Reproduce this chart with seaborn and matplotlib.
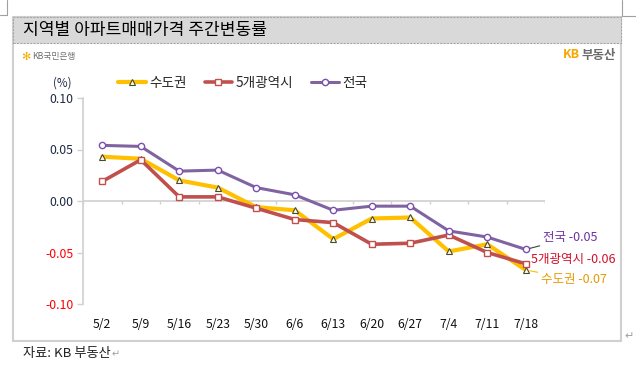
import matplotlib
matplotlib.use("Agg")
import matplotlib.pyplot as plt
import matplotlib.patches as mpatches
import matplotlib.lines as mlines
import seaborn as sns
import numpy as np
import pandas as pd

# ---- data ----
weeks = ["5/2", "5/9", "5/16", "5/23", "5/30", "6/6", "6/13", "6/20", "6/27", "7/4", "7/11", "7/18"]
sudogwon = [0.043, 0.041, 0.020, 0.013, -0.006, -0.009, -0.037, -0.017, -0.016, -0.049, -0.042, -0.067]
metro5 = [0.019, 0.040, 0.004, 0.004, -0.007, -0.018, -0.021, -0.042, -0.041, -0.033, -0.050, -0.061]
national = [0.054, 0.053, 0.029, 0.030, 0.013, 0.006, -0.009, -0.005, -0.005, -0.029, -0.035, -0.047]
series_names = ["수도권", "5개광역시", "전국"]
end_labels = ["수도권 -0.07", "5개광역시 -0.06", "전국 -0.05"]
yticks = [0.10, 0.05, 0.00, -0.05, -0.10]

sns.set_theme(style="white")
plt.rcParams['font.family'] = ['Noto Sans CJK KR', 'DejaVu Sans']

fig = plt.figure(figsize=(6.36, 3.67), dpi=100)
W, H = 636, 367

def fx(px):
    return px / W

def fy(py):
    return 1 - py / H

# outer frame
frame = mpatches.Rectangle((fx(13), fy(341)), fx(621) - fx(13), fy(17) - fy(341),
                           transform=fig.transFigure, facecolor="white",
                           edgecolor="#d0d0d0", lw=1.5, zorder=-2)
fig.patches.append(frame)
# title bar
tbar = mpatches.Rectangle((fx(13), fy(43)), fx(621) - fx(13), fy(17) - fy(43),
                          transform=fig.transFigure, facecolor="#d9d9d9",
                          edgecolor="#a6a6a6", lw=0.8, ls=(0, (2, 1)), zorder=-1)
fig.patches.append(tbar)
fig.text(fx(23), fy(30), "지역별 아파트매매가격 주간변동률", fontsize=12.3, color="black",
         va="center", ha="left", zorder=2)

# page corner marks
for xs, ys in [([7, 7], [0, 15]), ([0, 7], [15, 15]), ([622, 622], [0, 16]), ([622, 636], [16, 16])]:
    fig.add_artist(mlines.Line2D([fx(v) for v in xs], [fy(v) for v in ys],
                                 transform=fig.transFigure, color="#a0a0a0", lw=0.8))

# logos
fig.text(fx(21), fy(57), "✻", fontsize=8, color="#f2a900", va="center", ha="left",
         family=['DejaVu Sans'])
fig.text(fx(32), fy(57), "KB국민은행", fontsize=6.3, color="#707070", va="center", ha="left")
fig.text(fx(563), fy(55), "KB", fontsize=9, color="#f5a800", va="center", ha="left",
         fontweight="bold")
fig.text(fx(581), fy(55), "부동산", fontsize=9, color="#6b6b6b", va="center", ha="left",
         fontweight="bold")

# source
fig.text(fx(23), fy(353), "자료: KB 부동산", fontsize=9.5, color="#222222", va="center", ha="left")
fig.text(fx(112), fy(354), "↵", fontsize=7, color="#a0a0a0", va="center", ha="left",
         family=['DejaVu Sans'])
fig.text(fx(624), fy(336), "↵", fontsize=8, color="#a0a0a0", va="center", ha="left",
         family=['DejaVu Sans'])

# axes
ax = fig.add_axes([fx(83), fy(304), fx(545) - fx(83), fy(98) - fy(304)])
ax.set_facecolor("none")
ax.set_zorder(5)

x = np.arange(len(weeks))
df = pd.DataFrame({"x": np.tile(x, 3),
                   "val": sudogwon + metro5 + national,
                   "series": np.repeat(series_names, len(weeks))})

styles = {
    "수도권": dict(color="#FFC000", lw=3.0, marker="^", ms=4.8, mfc="#fffbe8", mec="#4a4a2a", mew=0.8),
    "5개광역시": dict(color="#C0504D", lw=2.6, marker="s", ms=4.3, mfc="white", mec="#C0504D", mew=1.0),
    "전국": dict(color="#8064A2", lw=2.2, marker="o", ms=4.5, mfc="white", mec="#7a4fb0", mew=1.0),
}

for name in series_names:
    st = styles[name]
    sub = df[df.series == name]
    sns.lineplot(data=sub, x="x", y="val", ax=ax, color=st["color"], lw=st["lw"],
                 marker=st["marker"], markersize=st["ms"], markerfacecolor=st["mfc"],
                 markeredgecolor=st["mec"], markeredgewidth=st["mew"], legend=False)

ax.set_xlim(-0.5, len(weeks) - 0.5)
ax.set_ylim(-0.10, 0.10)
ax.set_xlabel("")
ax.set_ylabel("")

# zero axis line with category tick marks
ax.axhline(0, color="#d0d0d0", lw=1.2, zorder=0.5)
ax.vlines(np.arange(-0.5, len(weeks)), -0.003, 0, color="#d0d0d0", lw=1.0, zorder=0.5)

for s in ["top", "right", "bottom"]:
    ax.spines[s].set_visible(False)
ax.spines["left"].set_color("#d0d0d0")
ax.spines["left"].set_linewidth(1.2)

ax.set_yticks(yticks)
ax.set_yticklabels([f"{v:.2f}" for v in yticks])
for lbl, v in zip(ax.get_yticklabels(), yticks):
    lbl.set_color("#ff0000" if v < 0 else "#1f2a44")
ax.tick_params(axis="y", which="major", length=4, width=1.0, color="#d0d0d0",
               labelsize=8.8, pad=3, left=True, direction="out")
ax.set_xticks(x)
ax.set_xticklabels(weeks)
ax.tick_params(axis="x", length=0, labelsize=8.8, pad=10, labelcolor="#111111")

# legend
handles = [mlines.Line2D([], [], color=styles[n]["color"], lw=styles[n]["lw"],
                         marker=styles[n]["marker"], ms=styles[n]["ms"],
                         mfc=styles[n]["mfc"], mec=styles[n]["mec"], mew=styles[n]["mew"])
           for n in series_names]
fig.legend(handles, series_names, loc="center", bbox_to_anchor=(fx(243), fy(83)),
           ncol=3, frameon=False, fontsize=9.8, handlelength=2.0, handletextpad=0.3,
           columnspacing=1.3)
fig.text(fx(53), fy(83), "(%)", fontsize=8.3, color="#1f2a44", va="center", ha="left")

# end labels with leader lines
last = len(weeks) - 1
ax.annotate(end_labels[2], xy=(last, national[-1]), xytext=(fx(543), fy(238)),
            textcoords="figure fraction", fontsize=9, color="#7030a0", va="center", ha="left",
            arrowprops=dict(arrowstyle="-", color="#404040", lw=0.8, shrinkA=0, shrinkB=3))
ax.annotate(end_labels[1], xy=(last, metro5[-1]), xytext=(fx(531), fy(259)),
            textcoords="figure fraction", fontsize=9, color="#d0102a", va="center", ha="left")
ax.annotate(end_labels[0], xy=(last, sudogwon[-1]), xytext=(fx(541), fy(279)),
            textcoords="figure fraction", fontsize=9, color="#e69a00", va="center", ha="left",
            arrowprops=dict(arrowstyle="-", color="#ffc000", lw=0.8, shrinkA=0, shrinkB=3))

fig.savefig("out.png", dpi=100)
